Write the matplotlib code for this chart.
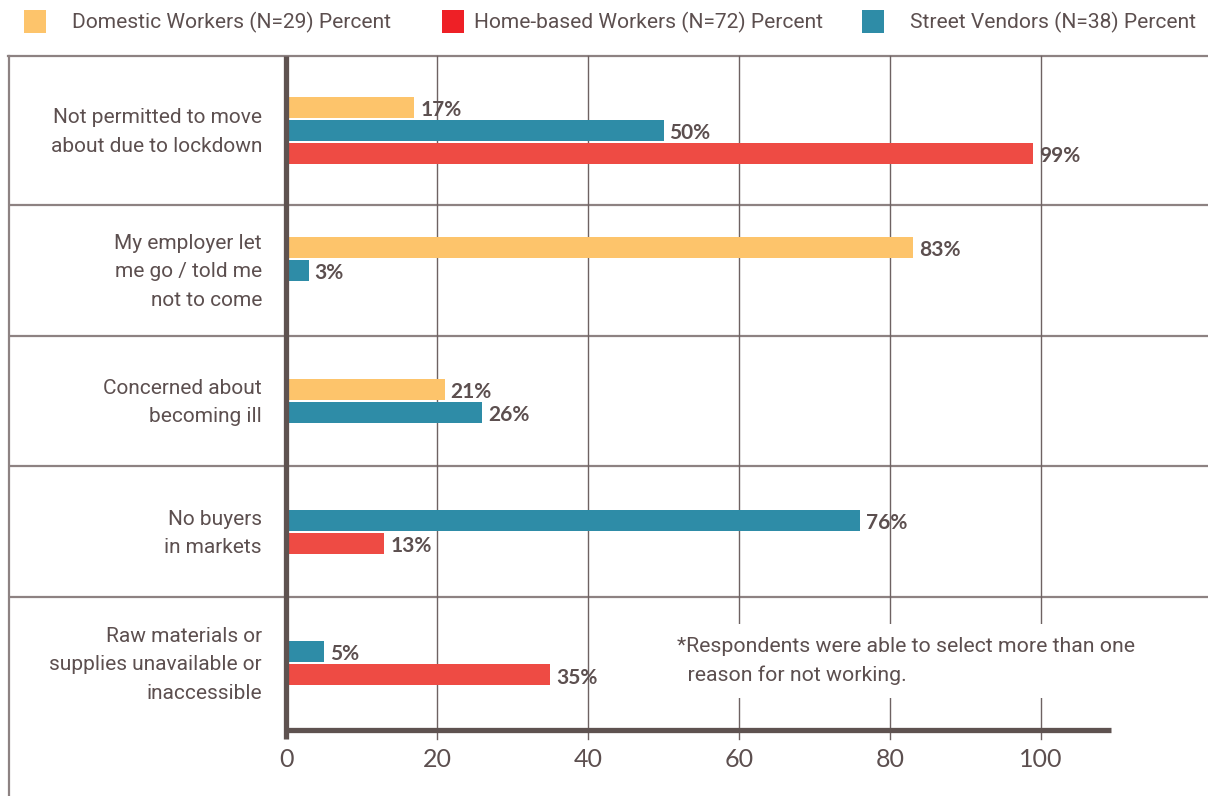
import matplotlib
matplotlib.use("Agg")
import matplotlib.pyplot as plt
from matplotlib.patches import Rectangle
import numpy as np

# ---------------- data ----------------
categories = [
    "Not permitted to move\nabout due to lockdown",
    "My employer let\nme go / told me\nnot to come",
    "Concerned about\nbecoming ill",
    "No buyers\nin markets",
    "Raw materials or\nsupplies unavailable or\ninaccessible",
]
series_names = [
    "Domestic Workers (N=29) Percent",
    "Home-based Workers (N=72) Percent",
    "Street Vendors (N=38) Percent",
]
# None = series not shown for that category
domestic = [17, 83, 21, None, None]
home_based = [99, 0, None, 13, 35]
street = [50, 3, 26, 76, 5]
x_ticks = [0, 20, 40, 60, 80, 100]
footnote = "*Respondents were able to select more than one\n  reason for not working."

# ---------------- style ----------------
W, H = 1208, 796
TXT = "#5c4f4f"
AXC = "#5e5250"
GRID = "#6e6262"
SEP = "#8d8282"
bar_colors = {"dom": "#fdc46b", "home": "#ee4b44", "street": "#2e8ca7"}
legend_colors = ["#fdc46b", "#ee2026", "#2e8ca7"]

fig = plt.figure(figsize=(W / 100, H / 100), dpi=100)
fig.patch.set_facecolor("white")

# pixel geometry
px0, px100 = 286, 1041
scale = (px100 - px0) / 100.0
ax_left, ax_right, ax_top, ax_bot = 8, 1208, 56, 730
seps_px = [205, 335, 466, 597]
unit = (seps_px[-1] - seps_px[0]) / 3.0

ax = fig.add_axes([ax_left / W, (H - ax_bot) / H, (ax_right - ax_left) / W, (ax_bot - ax_top) / H])
ax.set_xlim(-(px0 - ax_left) / scale, (ax_right - px0) / scale)
y_top = 0.5 - (seps_px[0] - ax_top) / unit
y_bot = 3.5 + (ax_bot - seps_px[-1]) / unit
ax.set_ylim(y_bot, y_top)
for s in ax.spines.values():
    s.set_visible(False)
ax.set_yticks([])

# band edges / centres
edges = [y_top, 0.5, 1.5, 2.5, 3.5, y_bot]
centers = [(edges[i] + edges[i + 1]) / 2 for i in range(len(categories))]

# frame lines
ax.axhline(y_top, color=SEP, lw=1.6, zorder=1, clip_on=False)
for k in range(4):
    ax.axhline(k + 0.5, color=SEP, lw=1.6, zorder=1)
ax.axvline(ax.get_xlim()[0] + 0.15, ymin=-(H - ax_bot) / (ax_bot - ax_top), ymax=1,
           color=SEP, lw=1.6, zorder=1, clip_on=False)

# vertical grid lines (extend slightly below axis)
ext = 9 / (ax_bot - ax_top)
for t in x_ticks[1:]:
    ax.axvline(t, ymin=-ext, ymax=1, color=GRID, lw=1.0, zorder=1, clip_on=False)

# bars
bar_h = 21 / unit
pitch = 23 / unit
order = [("dom", domestic), ("street", street), ("home", home_based)]
for i, c in enumerate(centers):
    present = [(k, vals[i]) for k, vals in order if vals[i] is not None]
    n = len(present)
    for j, (k, v) in enumerate(present):
        y = c + (j - (n - 1) / 2) * pitch
        ax.barh(y, v, height=bar_h, color=bar_colors[k], zorder=2)
        if v > 0:
            ax.text(v + 6 / scale, y + 2.5 / unit, f"{v}%", ha="left", va="center",
                    fontsize=15, fontweight="bold", family="Lato", color=TXT, zorder=4)

# category labels
for c, lab in zip(centers, categories):
    ax.text((262 - px0) / scale, c + 1.5 / unit, lab, ha="right", va="center", fontsize=15,
            family="Roboto", color=TXT, linespacing=1.62, multialignment="right")

# thick axes
ax.plot([0, 0], [y_bot + 9 / unit, y_top], color=AXC, lw=3.8, solid_capstyle="butt",
        zorder=5, clip_on=False)
ax.plot([-0.3, (1111 - px0) / scale], [y_bot, y_bot], color=AXC, lw=3.8,
        solid_capstyle="butt", zorder=5, clip_on=False)

# ticks
ax.set_xticks(x_ticks)
ax.set_xticklabels([str(t) for t in x_ticks], family="Lato", fontsize=18, color=TXT)
ax.tick_params(axis="x", length=0, pad=13)

# footnote
fig.text(677 / W, 1 - 637 / H, footnote, ha="left", va="top", fontsize=15.3, family="Roboto",
         color=TXT, linespacing=1.62,
         bbox=dict(boxstyle="square,pad=0.6", fc="white", ec="none"), zorder=6)

# legend (manual)
sq_x = [24, 442, 862]
tx_x = [72, 474, 910]
for name, col, sx, tx in zip(series_names, legend_colors, sq_x, tx_x):
    fig.add_artist(Rectangle((sx / W, 1 - 33 / H), 22 / W, 23 / H, transform=fig.transFigure,
                             facecolor=col, edgecolor="none"))
    fig.text(tx / W, 1 - 22 / H, name, ha="left", va="center", fontsize=15.1, family="Roboto",
             color=TXT)

fig.savefig("out.png", dpi=100)
